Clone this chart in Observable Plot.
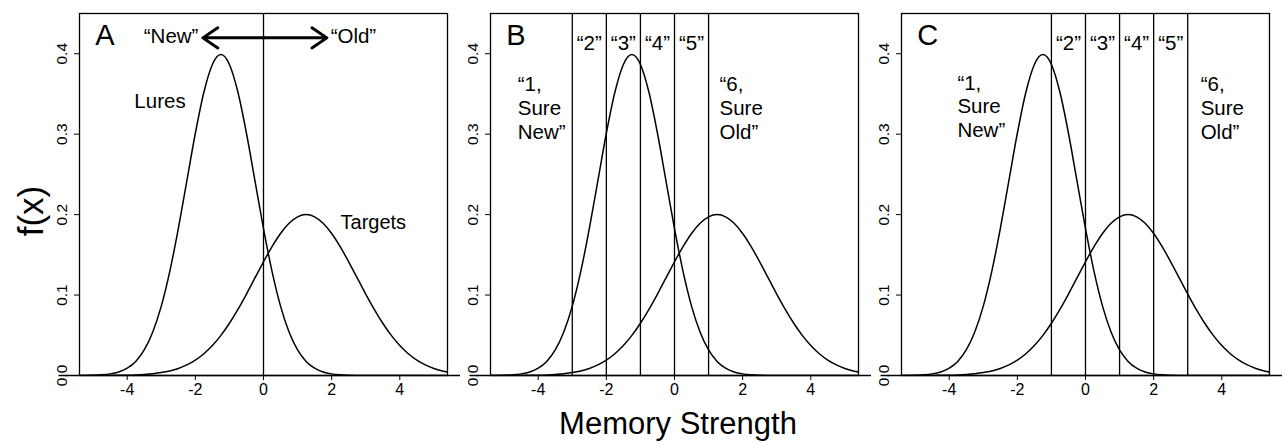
<!DOCTYPE html>
<html>
<head>
<meta charset="utf-8">
<script src="https://cdn.jsdelivr.net/npm/d3@7"></script>
<script src="https://cdn.jsdelivr.net/npm/@observablehq/plot@0.6"></script>
<style>
  html, body { margin: 0; padding: 0; background: #fff; overflow: hidden; }
  #wrap { position: relative; width: 1284px; height: 443px; font-family: "Liberation Sans", Arial, Helvetica, sans-serif; color: #000; }
  #wrap svg { position: absolute; top: 0; }
  #ylab { position: absolute; left: 30px; top: 211px; font-size: 35px; line-height: 35px; white-space: nowrap;
          transform: translate(-50%, -50%) rotate(-90deg); }
  #xlab { position: absolute; left: 678px; top: 409px; font-size: 31px; line-height: 30px; white-space: nowrap;
          transform: translateX(-50%); }
</style>
</head>
<body>
<div id="wrap">
  <div id="ylab">f(x)</div>
  <div id="xlab">Memory Strength</div>
</div>
<script>
// ---- data ----
const xs = [
  -5.5, -5.25, -5, -4.75, -4.5, -4.25, -4, -3.75, -3.5,
  -3.25, -3, -2.75, -2.5, -2.25, -2, -1.75, -1.5, -1.25,
  -1, -0.75, -0.5, -0.25, 0, 0.25, 0.5, 0.75, 1,
  1.25, 1.5, 1.75, 2, 2.25, 2.5, 2.75, 3, 3.25,
  3.5, 3.75, 4, 4.25, 4.5, 4.75, 5, 5.25, 5.5
];
const luresY = [
  0.00005, 0.00013, 0.00035, 0.00087, 0.00203, 0.00443, 0.00909, 0.01753, 0.03174,
  0.05399, 0.08628, 0.12952, 0.18265, 0.24197, 0.30114, 0.35207, 0.38667, 0.39894,
  0.38667, 0.35207, 0.30114, 0.24197, 0.18265, 0.12952, 0.08628, 0.05399, 0.03174,
  0.01753, 0.00909, 0.00443, 0.00203, 0.00087, 0.00035, 0.00013, 0.00005, 0.00002,
  0.00001, 0, 0, 0, 0, 0, 0, 0, 0
];
const targetsY = [
  0.00001, 0.00002, 0.00003, 0.00007, 0.00013, 0.00024, 0.00044, 0.00077, 0.00133,
  0.00222, 0.00361, 0.00571, 0.00879, 0.01314, 0.01913, 0.02707, 0.03725, 0.04987,
  0.06493, 0.08222, 0.10127, 0.12131, 0.14133, 0.16015, 0.17650, 0.18919, 0.19724,
  0.20000, 0.19724, 0.18919, 0.17650, 0.16015, 0.14133, 0.12131, 0.10127, 0.08222,
  0.06493, 0.04987, 0.03725, 0.02707, 0.01913, 0.01314, 0.00879, 0.00571, 0.00361
];
const panelLetters = ["A", "B", "C"];
const criteriaA = [0];
const criteriaB = [-3, -2, -1, 0, 1];
const criteriaC = [-1, 0, 1, 2, 3];
const ratingLabels = ["\u201C2\u201D", "\u201C3\u201D", "\u201C4\u201D", "\u201C5\u201D"];
const ratingXB = [-2.5, -1.5, -0.5, 0.5];
const ratingXC = [-0.5, 0.5, 1.5, 2.5];
const sureNewLabel = "\u201C1,\nSure\nNew\u201D";
const sureOldLabel = "\u201C6,\nSure\nOld\u201D";
const distLabels = ["Lures", "Targets"];
const responseLabels = ["\u201CNew\u201D", "\u201COld\u201D"];
const xTicks = [-4, -2, 0, 2, 4];
const xTickLabels = ["-4", "-2", "0", "2", "4"];
const yTicks = [0, 0.1, 0.2, 0.3, 0.4];
const yTickLabels = ["0.0", "0.1", "0.2", "0.3", "0.4"];

const curveData = xs.map((x, i) => ({dist: "Lures", x, y: luresY[i]}))
  .concat(xs.map((x, i) => ({dist: "Targets", x, y: targetsY[i]})));

const FONT = '"Liberation Sans", Arial, Helvetica, sans-serif';
const wrap = document.getElementById("wrap");

function panel(letter, criteria, extra, leftPx) {
  const svg = Plot.plot({
    width: 460, height: 400,
    marginLeft: 79, marginRight: 13, marginTop: 13, marginBottom: 25,
    x: {domain: [-5.4, 5.4]},
    y: {domain: [0, 0.45]},
    style: {fontFamily: FONT, color: "#000", background: "transparent"},
    marks: [
      Plot.ruleY([0], {x1: -6, x2: 6.5, stroke: "#000", strokeWidth: 1.5}),
      Plot.line(curveData, {x: "x", y: "y", z: "dist", curve: "monotone-x", stroke: "#000", strokeWidth: 1.5, clip: true}),
      Plot.ruleX(criteria, {stroke: "#000", strokeWidth: 1.3}),
      Plot.frame({stroke: "#000", strokeWidth: 1.3}),
      Plot.axisX({ticks: xTicks, tickFormat: d => xTickLabels[xTicks.indexOf(d)], tickSize: 5, tickPadding: 3, fontSize: 16, label: null}),
      Plot.axisY({ticks: yTicks, tickSize: 5, tickFormat: () => "", label: null}),
      Plot.text(yTicks, {frameAnchor: "left", y: d => d, text: d => yTickLabels[yTicks.indexOf(d)], rotate: -90, dx: -17, fontSize: 15.5, textAnchor: "middle"}),
      Plot.text([letter], {x: -4.94, y: 0.411, text: d => d, textAnchor: "start", lineAnchor: "bottom", fontSize: 29}),
      ...extra
    ]
  });
  svg.style.left = leftPx + "px";
  wrap.appendChild(svg);
}

panel(panelLetters[0], criteriaA, [
  Plot.arrow([0], {x1: 0.02, y1: 0.4197, x2: -1.78, y2: 0.4197, strokeWidth: 3, headLength: 9, headAngle: 68, stroke: "#000"}),
  Plot.arrow([0], {x1: 0.02, y1: 0.4197, x2: 1.86, y2: 0.4197, strokeWidth: 3, headLength: 9, headAngle: 68, stroke: "#000"}),
  Plot.text([responseLabels[0]], {x: -1.91, y: 0.4134, text: d => d, textAnchor: "end", lineAnchor: "bottom", fontSize: 20.5}),
  Plot.text([responseLabels[1]], {x: 1.97, y: 0.4134, text: d => d, textAnchor: "start", lineAnchor: "bottom", fontSize: 20.5}),
  Plot.text([distLabels[0]], {x: -3.79, y: 0.3325, text: d => d, textAnchor: "start", lineAnchor: "bottom", fontSize: 20.5}),
  Plot.text([distLabels[1]], {x: 2.26, y: 0.1818, text: d => d, textAnchor: "start", lineAnchor: "bottom", fontSize: 20}),
], 0);

panel(panelLetters[1], criteriaB, [
  Plot.text(ratingLabels, {x: (d, i) => ratingXB[i], y: 0.4047, text: d => d, textAnchor: "middle", lineAnchor: "bottom", fontSize: 20.5}),
  Plot.text([sureNewLabel], {x: -4.6, y: 0.294, text: d => d, textAnchor: "start", lineAnchor: "bottom", lineHeight: 1.16, fontSize: 20.5}),
  Plot.text([sureOldLabel], {x: 1.32, y: 0.294, text: d => d, textAnchor: "start", lineAnchor: "bottom", lineHeight: 1.16, fontSize: 20.5}),
], 411);

panel(panelLetters[2], criteriaC, [
  Plot.text(ratingLabels, {x: (d, i) => ratingXC[i], y: 0.4047, text: d => d, textAnchor: "middle", lineAnchor: "bottom", fontSize: 20.5}),
  Plot.text([sureNewLabel], {x: -3.76, y: 0.2964, text: d => d, textAnchor: "start", lineAnchor: "bottom", lineHeight: 1.16, fontSize: 20.5}),
  Plot.text([sureOldLabel], {x: 3.38, y: 0.294, text: d => d, textAnchor: "start", lineAnchor: "bottom", lineHeight: 1.16, fontSize: 20.5}),
], 822);
</script>
</body>
</html>
